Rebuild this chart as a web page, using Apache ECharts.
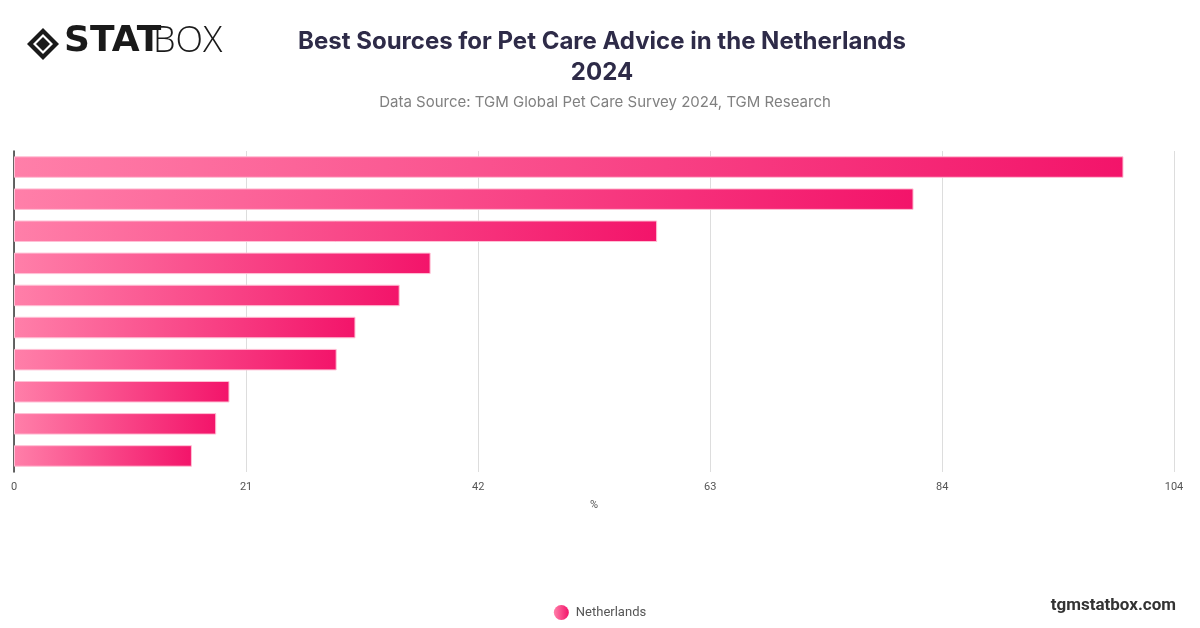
<!DOCTYPE html>
<html>
<head>
<meta charset="utf-8">
<script src="https://cdn.jsdelivr.net/npm/echarts@6/dist/echarts.min.js"></script>
<style>
html,body{margin:0;padding:0;background:#fff;}
#main{width:1200px;height:628px;}
</style>
</head>
<body>
<div id="main"></div>
<script>
// Data (top bar first)
var categories = [
  "Veterinarians",
  "Friends and family",
  "Pet stores",
  "Online search",
  "Pet care websites",
  "Social media",
  "Breeders",
  "Online forums",
  "Books and magazines",
  "TV and radio"
];
var values = [100.4, 81.4, 58.2, 37.7, 34.9, 30.9, 29.2, 19.5, 18.3, 16.1];
var seriesName = "Netherlands";
var axisMax = 104.97;
var axisInterval = 21;

var chart = echarts.init(document.getElementById('main'));
var barGradient = new echarts.graphic.LinearGradient(0, 0, 1, 0, [
  {offset: 0, color: '#ff7fa9'},
  {offset: 1, color: '#f3146a'}
]);
var legendGradient = new echarts.graphic.LinearGradient(0, 0, 1, 0, [
  {offset: 0, color: '#ff7fa9'},
  {offset: 1, color: '#f3146a'}
]);
chart.setOption({
  animation: false,
  backgroundColor: '#fff',
  title: [{
    text: 'Best Sources for Pet Care Advice in the Netherlands\n2024',
    left: 597, top: 21, textAlign: 'center',
    textStyle: {fontFamily: 'Inter', fontSize: 24, fontWeight: 'bold', color: '#2e2b48', lineHeight: 31}
  }, {
    text: 'Data Source: TGM Global Pet Care Survey 2024, TGM Research',
    left: 600, top: 90, textAlign: 'center',
    textStyle: {fontFamily: 'Inter', fontSize: 15, fontWeight: 'normal', color: '#808080'}
  }],
  legend: {
    data: [{name: seriesName, itemStyle: {color: legendGradient, borderWidth: 0}}],
    top: 600, left: 'center',
    icon: 'circle', itemWidth: 15, itemHeight: 15, itemGap: 10,
    textStyle: {fontFamily: 'Roboto', fontSize: 13, color: '#555', padding: [0, 0, 0, 2]}
  },
  grid: {left: 14, right: 26, top: 151, bottom: 156, containLabel: false},
  xAxis: {
    type: 'value', min: 0, max: axisMax, interval: axisInterval,
    name: '%', nameLocation: 'middle', nameGap: 28,
    nameTextStyle: {fontFamily: 'Roboto', fontSize: 11, color: '#555'},
    axisLabel: {fontFamily: 'Roboto', fontSize: 11, color: '#555', margin: 10,
      formatter: function (v) { return String(Math.floor(v)); }},
    axisLine: {show: false}, axisTick: {show: false},
    splitLine: {show: true, lineStyle: {color: '#dddddd', width: 1}}
  },
  yAxis: {
    type: 'category', data: categories, inverse: true,
    axisLabel: {show: false},
    axisTick: {show: false},
    axisLine: {show: true, lineStyle: {color: '#333', width: 1.5}}
  },
  series: [{
    name: seriesName, type: 'bar', data: values,
    barWidth: '67%',
    itemStyle: {color: barGradient, borderColor: '#ffc0d5', borderWidth: 1}
  }],
  graphic: [
    {type: 'group', left: 27, top: 24, children: [
      {type: 'polygon', shape: {points: [[16,0],[32,16],[16,32],[0,16]]}, style: {fill: '#1a1a1a'}},
      {type: 'polygon', shape: {points: [[16,6],[26,16],[16,26],[6,16]]}, style: {fill: '#fff'}},
      {type: 'polygon', shape: {points: [[16,9],[23,16],[16,23],[9,16]]}, style: {fill: '#1a1a1a'}},
      {type: 'text', left: 37, top: -4, style: {text: 'STAT', font: '900 36px "DejaVu Sans"', fill: '#1a1a1a'}},
      {type: 'text', left: 126, top: -4, style: {text: 'BOX', font: '300 36px "Open Sans"', fill: '#1a1a1a'}}
    ]},
    {type: 'text', right: 24, top: 597, style: {text: 'tgmstatbox.com', font: 'bold 17px "Roboto"', fill: '#333'}}
  ]
});
</script>
</body>
</html>
